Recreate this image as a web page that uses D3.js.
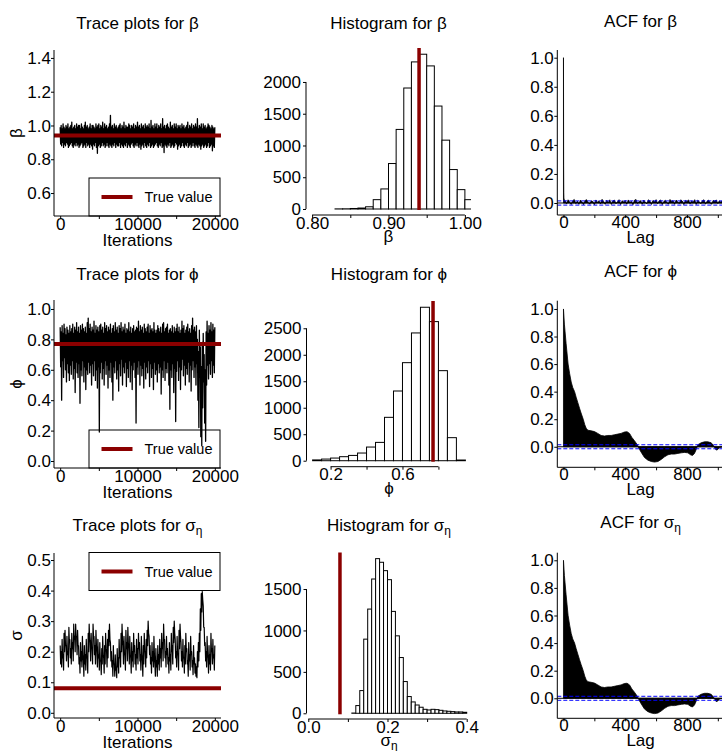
<!DOCTYPE html>
<html><head><meta charset="utf-8">
<script src="https://cdn.jsdelivr.net/npm/d3@7"></script>
<style>body{margin:0;background:#fff}svg{display:block}</style>
</head><body>
<script>
// ---------- MCMC output: upper and lower extent of the sampled chain in each
// block of 125 iterations (the chain swings between them inside the block) ----------
const traceStep = 125;
const betaHigh = [
0.99,1.00,0.98,1.01,0.99,0.98,1.00,0.99,1.01,0.98,
0.99,1.00,1.02,0.98,0.99,1.00,0.98,1.01,0.99,1.00,
1.00,0.98,1.01,0.99,0.98,1.00,1.02,0.99,1.00,0.98,
0.99,1.01,0.98,1.00,1.00,0.99,0.98,1.01,0.99,1.00,
1.01,0.98,1.00,0.99,1.02,0.98,1.01,0.99,1.00,0.98,
0.99,1.01,1.06,0.99,1.00,0.98,1.01,0.99,1.00,0.98,
0.99,1.00,1.01,0.98,1.00,0.99,1.02,0.98,1.00,0.99,
0.99,1.01,1.00,0.98,1.00,0.99,1.01,0.98,1.00,0.99,
1.02,0.99,1.00,0.98,1.01,0.99,1.00,0.98,1.01,0.99,
1.00,0.99,1.01,0.98,1.03,0.99,1.00,0.98,1.01,0.99,
1.01,0.98,1.00,0.99,1.01,0.98,1.04,0.99,1.00,0.98,
1.00,1.01,0.99,0.98,1.02,0.99,1.00,0.98,1.01,0.99,
1.01,0.98,1.00,0.99,1.00,0.98,1.01,0.99,1.00,0.98,
0.99,1.00,1.02,0.98,1.00,0.99,1.01,0.98,1.00,0.99,
1.01,0.99,1.04,0.98,1.00,0.99,1.01,0.98,1.01,0.99,
1.00,0.98,0.99,1.01,1.00,0.99,0.98,1.00,0.99,0.98,0.99];
const betaLow = [
0.89,0.88,0.90,0.87,0.89,0.88,0.90,0.89,0.87,0.88,
0.89,0.90,0.88,0.87,0.89,0.88,0.90,0.88,0.89,0.87,
0.88,0.89,0.90,0.87,0.88,0.89,0.87,0.90,0.88,0.89,
0.87,0.89,0.88,0.86,0.89,0.88,0.90,0.87,0.835,0.88,
0.89,0.87,0.88,0.90,0.88,0.89,0.87,0.88,0.90,0.88,
0.87,0.89,0.88,0.87,0.89,0.88,0.90,0.87,0.89,0.88,
0.88,0.90,0.87,0.89,0.88,0.87,0.89,0.88,0.90,0.87,
0.89,0.88,0.87,0.89,0.90,0.88,0.87,0.89,0.88,0.90,
0.88,0.87,0.89,0.86,0.88,0.89,0.87,0.90,0.88,0.87,
0.89,0.88,0.90,0.87,0.88,0.89,0.87,0.88,0.89,0.90,
0.88,0.87,0.89,0.88,0.90,0.87,0.88,0.84,0.89,0.88,
0.87,0.89,0.88,0.90,0.87,0.88,0.89,0.87,0.88,0.90,
0.89,0.86,0.88,0.89,0.87,0.88,0.90,0.88,0.87,0.89,
0.88,0.90,0.87,0.88,0.89,0.87,0.88,0.90,0.88,0.87,
0.89,0.88,0.87,0.89,0.88,0.86,0.88,0.89,0.87,0.88,
0.89,0.87,0.88,0.90,0.87,0.88,0.89,0.85,0.88,0.87,0.89];
const phiHigh = [
0.88,0.85,0.89,0.84,0.90,0.87,0.83,0.88,0.86,0.84,
0.89,0.85,0.87,0.90,0.84,0.88,0.86,0.91,0.85,0.88,
0.84,0.89,0.86,0.90,0.87,0.85,0.88,0.84,0.91,0.94,
0.87,0.90,0.85,0.88,0.86,0.92,0.84,0.89,0.86,0.88,
0.85,0.89,0.90,0.86,0.88,0.84,0.91,0.87,0.89,0.85,
0.88,0.86,0.90,0.84,0.87,0.89,0.85,0.91,0.86,0.88,
0.84,0.89,0.87,0.91,0.85,0.88,0.86,0.90,0.84,0.87,
0.86,0.91,0.85,0.88,0.84,0.87,0.89,0.85,0.86,0.88,
0.87,0.92,0.85,0.89,0.86,0.88,0.84,0.90,0.87,0.85,
0.88,0.90,0.84,0.89,0.86,0.87,0.85,0.91,0.86,0.84,
0.86,0.89,0.87,0.85,0.88,0.84,0.90,0.91,0.85,0.87,
0.88,0.90,0.84,0.86,0.87,0.85,0.89,0.84,0.88,0.85,
0.87,0.90,0.85,0.88,0.84,0.86,0.92,0.87,0.89,0.84,
0.86,0.88,0.90,0.85,0.87,0.84,0.89,0.94,0.86,0.88,
0.85,0.89,0.80,0.72,0.86,0.75,0.62,0.78,0.84,0.70,
0.60,0.85,0.92,0.84,0.89,0.86,0.91,0.85,0.90,0.86,0.88];
const phiLow = [
0.62,0.40,0.66,0.55,0.68,0.60,0.52,0.64,0.58,0.53,
0.63,0.57,0.66,0.54,0.61,0.45,0.65,0.58,0.55,0.64,
0.38,0.60,0.56,0.66,0.52,0.62,0.47,0.60,0.57,0.65,
0.58,0.63,0.50,0.64,0.56,0.66,0.53,0.60,0.48,0.62,
0.19,0.58,0.65,0.54,0.61,0.50,0.66,0.57,0.63,0.48,
0.60,0.55,0.65,0.52,0.40,0.62,0.58,0.66,0.54,0.60,
0.46,0.64,0.56,0.67,0.50,0.62,0.58,0.65,0.49,0.61,
0.55,0.66,0.52,0.63,0.47,0.60,0.65,0.55,0.25,0.62,
0.57,0.66,0.50,0.63,0.56,0.61,0.48,0.65,0.54,0.62,
0.58,0.66,0.49,0.64,0.55,0.61,0.47,0.65,0.57,0.60,
0.52,0.64,0.58,0.62,0.44,0.60,0.55,0.66,0.53,0.61,
0.58,0.65,0.50,0.34,0.60,0.55,0.64,0.45,0.61,0.26,
0.59,0.66,0.53,0.62,0.47,0.60,0.67,0.56,0.63,0.50,
0.61,0.57,0.65,0.52,0.63,0.46,0.60,0.66,0.55,0.62,
0.50,0.64,0.40,0.22,0.55,0.16,0.10,0.35,0.52,0.25,
0.13,0.50,0.63,0.54,0.64,0.57,0.66,0.55,0.63,0.58,0.60];
const sigmaHigh = [
0.22,0.20,0.24,0.19,0.26,0.27,0.22,0.25,0.20,0.28,
0.24,0.21,0.26,0.23,0.29,0.25,0.29,0.25,0.27,0.22,
0.18,0.23,0.20,0.25,0.17,0.22,0.19,0.24,0.18,0.26,
0.29,0.23,0.26,0.21,0.29,0.25,0.22,0.27,0.20,0.24,
0.19,0.23,0.17,0.21,0.25,0.18,0.22,0.26,0.20,0.24,
0.27,0.29,0.23,0.20,0.17,0.22,0.16,0.19,0.15,0.21,
0.18,0.24,0.20,0.26,0.29,0.22,0.25,0.19,0.27,0.23,
0.28,0.21,0.25,0.18,0.23,0.20,0.26,0.22,0.19,0.24,
0.21,0.26,0.23,0.19,0.25,0.17,0.22,0.26,0.20,0.24,
0.27,0.30,0.25,0.22,0.18,0.23,0.20,0.25,0.16,0.21,
0.17,0.22,0.19,0.24,0.21,0.26,0.23,0.29,0.24,0.20,
0.25,0.21,0.18,0.23,0.19,0.26,0.22,0.28,0.30,0.24,
0.20,0.25,0.19,0.27,0.29,0.23,0.20,0.24,0.18,0.22,
0.26,0.21,0.17,0.23,0.19,0.25,0.20,0.17,0.22,0.18,
0.16,0.15,0.20,0.23,0.26,0.34,0.39,0.397,0.35,0.28,
0.23,0.20,0.25,0.18,0.22,0.19,0.26,0.21,0.24,0.19,0.22];
const sigmaLow = [
0.16,0.15,0.18,0.14,0.20,0.22,0.17,0.19,0.15,0.23,
0.18,0.16,0.21,0.17,0.24,0.20,0.25,0.19,0.22,0.16,
0.13,0.17,0.15,0.19,0.12,0.16,0.14,0.18,0.13,0.20,
0.24,0.17,0.21,0.16,0.25,0.19,0.16,0.22,0.15,0.18,
0.14,0.17,0.125,0.16,0.19,0.13,0.16,0.21,0.15,0.18,
0.22,0.24,0.17,0.15,0.12,0.16,0.12,0.14,0.115,0.15,
0.13,0.18,0.15,0.20,0.24,0.16,0.19,0.14,0.21,0.17,
0.23,0.16,0.19,0.13,0.17,0.15,0.20,0.16,0.14,0.18,
0.16,0.21,0.17,0.14,0.19,0.12,0.16,0.20,0.15,0.18,
0.22,0.26,0.19,0.16,0.13,0.17,0.15,0.19,0.12,0.15,
0.12,0.16,0.14,0.18,0.15,0.21,0.17,0.24,0.18,0.15,
0.19,0.16,0.13,0.17,0.14,0.20,0.16,0.23,0.26,0.18,
0.15,0.19,0.14,0.21,0.25,0.17,0.15,0.18,0.13,0.16,
0.20,0.16,0.12,0.17,0.14,0.19,0.15,0.125,0.16,0.13,
0.12,0.115,0.15,0.17,0.20,0.27,0.33,0.37,0.28,0.22,
0.17,0.15,0.19,0.13,0.16,0.14,0.20,0.16,0.18,0.14,0.17];

// ---------- true parameter values ----------
const trueBeta = 0.94, truePhi = 0.77, trueSigma = 0.08;

// ---------- posterior histograms (lower edge of first bin, bin width, counts) ----------
const histBetaStart = 0.83, histBetaWidth = 0.01;
const histBetaCounts = [2,3,8,15,35,147,316,716,1253,1905,2316,2437,2253,1621,1084,621,305,147];
const histPhiStart = 0.10, histPhiWidth = 0.05;
const histPhiCounts = [15,31,50,76,100,145,258,346,819,1316,1851,2412,2897,2626,1700,435,13];
const histSigmaStart = 0.11, histSigmaWidth = 0.01;
const histSigmaCounts = [3,93,274,895,1258,1621,1867,1823,1722,1613,1230,935,673,383,202,137,100,73,48,40,48,44,36,28,24,20,16,16,12];

// ---------- autocorrelation functions ----------
const acfBetaLags = [0,1,2,3,5].concat(d3.range(10, 1041, 10));
const acfBetaValues = [1.0,0.26,0.07,0.035,0.02,
0.018,-0.006,0.022,0.006,-0.010,0.016,0.024,-0.004,0.013,-0.009,
0.020,0.007,-0.011,0.017,0.023,0.003,-0.008,0.015,0.010,-0.012,
0.021,0.004,0.016,-0.006,0.025,0.011,-0.009,0.019,0.001,0.022,
-0.010,0.014,0.020,-0.005,0.009,0.023,-0.011,0.015,0.007,0.018,
-0.008,0.021,0.003,0.012,-0.012,0.019,0.024,-0.004,0.011,0.016,
-0.009,0.020,0.005,-0.006,0.022,0.013,-0.010,0.018,0.008,0.023,
-0.005,0.015,0.021,-0.011,0.010,0.019,0.004,-0.008,0.024,0.012,
0.016,-0.009,0.020,0.007,-0.004,0.022,0.013,-0.011,0.018,0.011,
0.021,-0.006,0.015,0.005,0.023,-0.010,0.019,0.009,-0.005,0.016,
0.022,-0.008,0.012,0.020,0.002,-0.009,0.018,0.013,0.021,-0.004,
0.015,0.006,0.019,-0.006];
const acfPhiLags = [0,6,17,30,40,50,60,72,82,93,104,114,128,138,147,158,179,201,222,244,266,287,309,330,352,373,395,412,428,443,460,478,493,508,525,547,569,590,612,633,655,677,698,720,741,763,784,806,823,836,849,860,871,892,914,935,957,974,989,1000,1011,1040];
const acfPhiValues = [1.0,0.89,0.75,0.60,0.53,0.47,0.43,0.40,0.36,0.32,0.28,0.245,0.20,0.16,0.135,0.12,0.116,0.11,0.097,0.082,0.078,0.082,0.082,0.087,0.092,0.097,0.107,0.109,0.097,0.068,0.044,0.015,-0.02,-0.048,-0.078,-0.097,-0.107,-0.111,-0.107,-0.092,-0.073,-0.058,-0.053,-0.053,-0.048,-0.044,-0.041,-0.044,-0.058,-0.063,-0.048,-0.02,0.015,0.029,0.036,0.036,0.029,0.005,-0.024,-0.02,-0.005,0.0];
const acfSigmaLags = [0,6,17,30,40,50,60,72,82,93,104,114,128,138,147,158,179,201,222,244,266,287,309,330,352,373,395,412,428,443,460,478,493,508,525,547,569,590,612,633,655,677,698,720,741,763,784,806,823,836,849,860,871,892,914,935,957,974,989,1000,1011,1040];
const acfSigmaValues = [1.0,0.89,0.75,0.60,0.53,0.47,0.43,0.40,0.36,0.32,0.28,0.245,0.20,0.16,0.135,0.12,0.116,0.11,0.097,0.082,0.078,0.082,0.082,0.087,0.092,0.097,0.107,0.109,0.097,0.068,0.044,0.015,-0.02,-0.048,-0.078,-0.097,-0.107,-0.111,-0.107,-0.092,-0.073,-0.058,-0.053,-0.053,-0.048,-0.044,-0.041,-0.044,-0.058,-0.063,-0.048,-0.02,0.015,0.029,0.036,0.036,0.029,0.005,-0.024,-0.02,-0.005,0.0];
const acfBound = 0.0145;

// ---------- tick labels ----------
const traceXTicks = [0,5000,10000,15000,20000], traceXLabels = [0,10000,20000];
const traceBetaTicks = [0.6,0.8,1.0,1.2,1.4];
const tracePhiTicks = [0.0,0.2,0.4,0.6,0.8,1.0];
const traceSigmaTicks = [0.0,0.1,0.2,0.3,0.4,0.5];
const histBetaXTicks = [0.80,0.85,0.90,0.95,1.00], histBetaXLabels = [0.80,0.90,1.00];
const histPhiXTicks = [0.2,0.4,0.6,0.8], histPhiXLabels = [0.2,0.6];
const histSigmaXTicks = [0.0,0.1,0.2,0.3,0.4], histSigmaXLabels = [0.0,0.2,0.4];
const histBetaYTicks = [0,500,1000,1500,2000];
const histPhiYTicks = [0,500,1000,1500,2000,2500];
const histSigmaYTicks = [0,500,1000,1500];
const acfXTicks = [0,200,400,600,800,1000], acfXLabels = [0,400,800];
const acfYTicks = [0.0,0.2,0.4,0.6,0.8,1.0];

// ---------- drawing ----------
const W = 722, H = 751;
const RED = '#8b0000';
const FONT = '"Liberation Sans", Arial, Helvetica, sans-serif';
const svg = d3.select('body').append('svg')
  .attr('width', W).attr('height', H)
  .style('font-family', FONT).style('font-size', '17px');

let clipId = 0;
function clipFor(x0, x1, y0, y1) {
  const id = 'clip' + (clipId++);
  svg.append('clipPath').attr('id', id).append('rect')
    .attr('x', x0).attr('y', y0).attr('width', x1 - x0).attr('height', y1 - y0);
  return `url(#${id})`;
}

function bottomAxis(x, yPos, ticks, labels, fmt, span, labelDy) {
  const g = svg.append('g').attr('transform', `translate(0,${yPos})`)
    .call(d3.axisBottom(x).tickValues(ticks).tickSize(3).tickSizeOuter(0)
      .tickFormat(d => labels.some(l => Math.abs(l - d) < 1e-9) ? fmt(d) : ''));
  g.attr('font-size', null).attr('font-family', null);
  g.select('.domain').remove();
  g.append('line').attr('x1', x(span[0])).attr('x2', x(span[1]))
    .attr('stroke', '#000').attr('stroke-width', 1);
  g.selectAll('.tick text').attr('y', labelDy).attr('dy', null).attr('fill', '#000');
  g.selectAll('.tick line').attr('stroke', '#000');
  return g;
}

function leftAxis(y, xPos, ticks, fmt, span, gap) {
  const g = svg.append('g').attr('transform', `translate(${xPos},0)`)
    .call(d3.axisLeft(y).tickValues(ticks).tickSize(3).tickSizeOuter(0).tickFormat(fmt));
  g.attr('font-size', null).attr('font-family', null);
  g.select('.domain').remove();
  g.append('line').attr('y1', y(span[0])).attr('y2', y(span[1]))
    .attr('stroke', '#000').attr('stroke-width', 1);
  g.selectAll('.tick text').attr('x', -gap).attr('dy', '0.33em').attr('fill', '#000');
  g.selectAll('.tick line').attr('stroke', '#000');
  return g;
}

function label(x, y, main, sub, opts = {}) {
  const t = svg.append('text').attr('x', x).attr('y', y)
    .attr('text-anchor', 'middle').attr('fill', '#000');
  if (opts.rotate) t.attr('transform', `rotate(-90,${x},${y})`);
  t.append('tspan').text(main);
  if (sub) t.append('tspan').attr('dy', 4).attr('font-size', '12px').text(sub);
  return t;
}

function legend(x0, x1, y0, y1) {
  svg.append('rect').attr('x', x0).attr('y', y0).attr('width', x1 - x0).attr('height', y1 - y0)
    .attr('fill', 'none').attr('stroke', '#000').attr('stroke-width', 1);
  const cy = (y0 + y1) / 2;
  svg.append('line').attr('x1', x0 + 12.5).attr('x2', x0 + 43.5).attr('y1', cy).attr('y2', cy)
    .attr('stroke', RED).attr('stroke-width', 4);
  svg.append('text').attr('x', x0 + 55.5).attr('y', cy + 5.3)
    .attr('font-size', '14.5px').attr('fill', '#000').text('True value');
}

// ----- trace plots -----
function tracePanel(o) {
  const x = d3.scaleLinear().domain([-800, 20800]).range([54, 221]);
  const y = d3.scaleLinear().domain(o.yDomain).range([o.bottom, o.top]);
  label(137.5, o.titleY, 'Trace plots for ' + o.sym, o.sub);
  const cp = clipFor(54, 221, o.top, o.bottom);
  if (o.legendTop) legend(89, 220, o.top - 0.5, o.top + 37.5);
  else legend(89, 220, o.bottom - 38, o.bottom);
  // the chain zig-zags from the top to the bottom of each block
  const pts = [];
  o.high.forEach((h, i) => {
    pts.push([i * traceStep, h]);
    if (i < o.high.length - 1) pts.push([i * traceStep + traceStep / 2, o.low[i]]);
  });
  svg.append('path').datum(pts).attr('clip-path', cp)
    .attr('fill', 'none').attr('stroke', '#000').attr('stroke-width', o.lw)
    .attr('stroke-linejoin', 'round')
    .attr('d', d3.line().x(d => x(d[0])).y(d => y(d[1])));
  svg.append('line').attr('clip-path', cp)
    .attr('x1', 54).attr('x2', 221).attr('y1', y(o.truth)).attr('y2', y(o.truth))
    .attr('stroke', RED).attr('stroke-width', 4);
  bottomAxis(x, o.bottom, traceXTicks, traceXLabels, d3.format('d'), [-800, 20800], 13.5);
  leftAxis(y, 54, o.yTicks, d3.format('.1f'), o.yDomain, 3);
  label(137.5, o.bottom + 29.5, 'Iterations');
  label(22, (o.top + o.bottom) / 2, o.ylab, null, { rotate: true });
}

// ----- histograms -----
function histPanel(o) {
  const x = d3.scaleLinear().domain(o.xDomain).range(o.xRange);
  const y = d3.scaleLinear().domain(o.yDomain).range([o.bottom, o.top]);
  label((o.xRange[0] + o.xRange[1]) / 2, o.titleY, 'Histogram for ' + o.sym, o.sub);
  const cp = clipFor(o.xRange[0], o.xRange[1], o.top, o.bottom);
  const bins = o.counts.map((c, i) => ({ x0: o.start + i * o.width, x1: o.start + (i + 1) * o.width, c }));
  svg.append('g').attr('clip-path', cp).selectAll('rect').data(bins).join('rect')
    .attr('x', d => x(d.x0)).attr('width', d => x(d.x1) - x(d.x0))
    .attr('y', d => y(d.c)).attr('height', d => y(0) - y(d.c))
    .attr('fill', '#fff').attr('stroke', '#000').attr('stroke-width', 1);
  svg.append('line').attr('x1', x(o.truth)).attr('x2', x(o.truth))
    .attr('y1', o.top).attr('y2', y(0) + 1)
    .attr('stroke', RED).attr('stroke-width', 3.5);
  bottomAxis(x, o.bottom, o.xTicks, o.xLabels, o.xFmt, [o.xTicks[0], o.xTicks[o.xTicks.length - 1]], 13.5);
  leftAxis(y, o.xRange[0], o.yTicks, d3.format('d'), [0, o.yTicks[o.yTicks.length - 1]], 5);
  label((o.xRange[0] + o.xRange[1]) / 2, o.bottom + 27, o.sym, o.sub);
}

// ----- autocorrelation -----
function acfPanel(o) {
  const x = d3.scaleLinear().domain([-40, 1040]).range([557.3, 724]);
  const y = d3.scaleLinear().domain(o.yDomain).range([o.bottom, o.top]);
  label(640.6, o.titleY, 'ACF for ' + o.sym, o.sub);
  const cp = clipFor(557.3, 724, o.top, o.bottom);
  const pts = o.lags.map((l, i) => ({ l, v: o.values[i] }));
  svg.append('path').datum(pts).attr('clip-path', cp)
    .attr('fill', '#000').attr('stroke', '#000').attr('stroke-width', 0.8)
    .attr('d', d3.area().x(d => x(d.l)).y0(y(0)).y1(d => y(d.v)));
  svg.append('line').attr('clip-path', cp).attr('x1', 557.3).attr('x2', 724)
    .attr('y1', y(0)).attr('y2', y(0)).attr('stroke', '#000').attr('stroke-width', 1);
  [acfBound, -acfBound].forEach(b => {
    svg.append('line').attr('clip-path', cp).attr('x1', 557.3).attr('x2', 724)
      .attr('y1', y(b)).attr('y2', y(b))
      .attr('stroke', '#0000ff').attr('stroke-width', 1).attr('stroke-dasharray', '4,2');
  });
  bottomAxis(x, o.bottom, acfXTicks, acfXLabels, d3.format('d'), [-40, 1040], 13);
  leftAxis(y, 557.3, acfYTicks, d3.format('.1f'), o.yDomain, 3.5);
  label(640.6, o.bottom + 28, 'Lag');
}

// row 1: beta
tracePanel({ sym: 'β', ylab: 'β', high: betaHigh, low: betaLow, truth: trueBeta, yDomain: [0.464, 1.447], lw: 1.3,
  yTicks: traceBetaTicks, top: 50, bottom: 216, titleY: 29, legendTop: false });
histPanel({ sym: 'β', start: histBetaStart, width: histBetaWidth, counts: histBetaCounts, truth: trueBeta,
  xDomain: [0.792, 1.008], xRange: [306, 471], yDomain: [-94.5, 2535], top: 48, bottom: 215, titleY: 29,
  xTicks: histBetaXTicks, xLabels: histBetaXLabels, xFmt: d3.format('.2f'), yTicks: histBetaYTicks });
acfPanel({ sym: 'β', lags: acfBetaLags, values: acfBetaValues, yDomain: [-0.0826, 1.053],
  top: 50, bottom: 215, titleY: 27 });

// row 2: phi
tracePanel({ sym: 'ϕ', ylab: 'ϕ', high: phiHigh, low: phiLow, truth: truePhi, yDomain: [-0.046, 1.059], lw: 1.3,
  yTicks: tracePhiTicks, top: 300, bottom: 468, titleY: 280, legendTop: false });
histPanel({ sym: 'ϕ', start: histPhiStart, width: histPhiWidth, counts: histPhiCounts, truth: truePhi,
  xDomain: [0.066, 0.984], xRange: [306.5, 471.5], yDomain: [-113, 3015], top: 301, bottom: 466.7, titleY: 280,
  xTicks: histPhiXTicks, xLabels: histPhiXLabels, xFmt: d3.format('.1f'), yTicks: histPhiYTicks });
acfPanel({ sym: 'ϕ', lags: acfPhiLags, values: acfPhiValues, yDomain: [-0.149, 1.06],
  top: 300.7, bottom: 467.3, titleY: 277 });

// row 3: sigma_eta
tracePanel({ sym: 'σ', sub: 'η', ylab: 'σ', high: sigmaHigh, low: sigmaLow, truth: trueSigma, yDomain: [-0.017, 0.523], lw: 1.2,
  yTicks: traceSigmaTicks, top: 553, bottom: 718, titleY: 531, legendTop: true });
histPanel({ sym: 'σ', sub: 'η', start: histSigmaStart, width: histSigmaWidth, counts: histSigmaCounts, truth: trueSigma,
  xDomain: [-0.0045, 0.4121], xRange: [306.5, 471.5], yDomain: [-69, 1941], top: 552.5, bottom: 719, titleY: 531,
  xTicks: histSigmaXTicks, xLabels: histSigmaXLabels, xFmt: d3.format('.1f'), yTicks: histSigmaYTicks });
acfPanel({ sym: 'σ', sub: 'η', lags: acfSigmaLags, values: acfSigmaValues, yDomain: [-0.145, 1.055],
  top: 552.7, bottom: 718.3, titleY: 527.5 });
</script>
</body></html>
